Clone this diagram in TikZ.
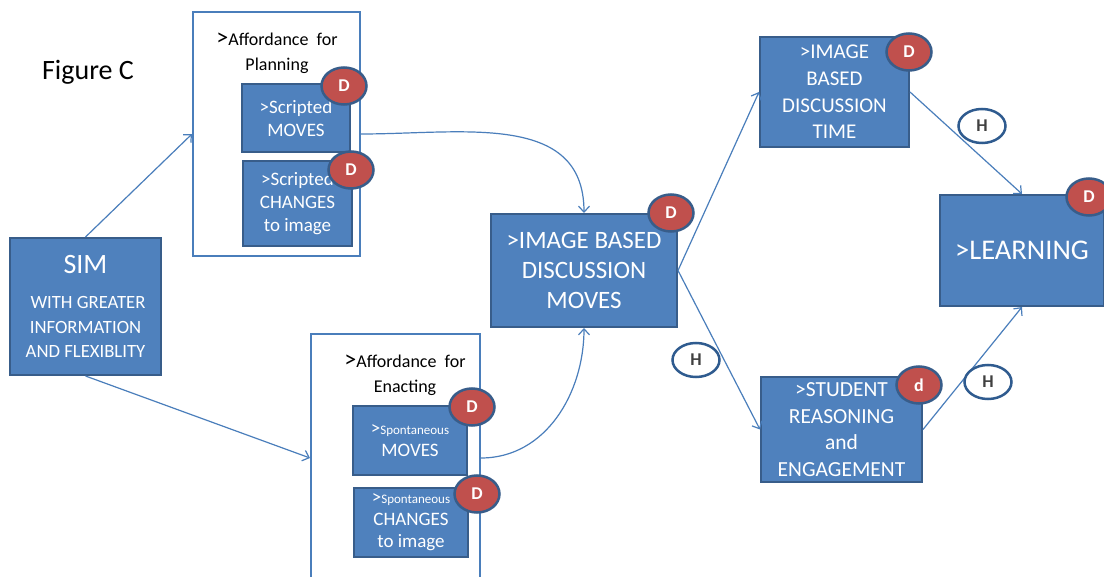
\documentclass[tikz,border=0pt]{standalone}
\usepackage{fontspec}
\setmainfont{Carlito}
\usetikzlibrary{arrows.meta,shapes.geometric}
\definecolor{boxfill}{HTML}{4F81BD}
\definecolor{boxline}{HTML}{385D8A}
\definecolor{dred}{HTML}{C0504D}
\definecolor{hline}{HTML}{2F5B8F}
\definecolor{connc}{HTML}{4A7EBB}
\newcommand{\fs}[2]{\fontsize{#1}{#2}\selectfont}
\tikzset{
  bluebox/.style={draw=boxline, line width=2pt, fill=boxfill, text=white, align=center, inner sep=0pt},
  framebox/.style={draw=connc, line width=2pt, fill=white, inner sep=0pt},
  dmark/.style={ellipse, draw=boxline, line width=2.5pt, fill=dred, text=white, font=\bfseries\fs{18}{18}, minimum width=45pt, minimum height=37pt, inner sep=0pt},
  hmark/.style={ellipse, draw=hline, line width=2.5pt, fill=white, text=black!75, font=\bfseries\fs{18}{18}, minimum width=47pt, minimum height=34pt, inner sep=0pt},
  conn/.style={draw=connc, line width=1.2pt, -{Straight Barb[length=6pt,width=11pt]}},
  lbl/.style={align=center, inner sep=0pt, text=black}
}
\begin{document}
\begin{tikzpicture}[x=1pt,y=-1pt]
\useasboundingbox[fill=white] (0,0) rectangle (1104,577);
\node[lbl, font=\fs{28}{30}] (fig) at (88,72) {Figure C};
% frames
\node[framebox, minimum width=167pt, minimum height=244pt] (plan) at (276.5,134) {};
\node[framebox, minimum width=169pt, minimum height=260pt] (enact) at (395.5,464) {};
\node[lbl, font=\fs{18}{25}] (planlbl) at (277,53) {{\fs{24}{25}>}Affordance\ \ for\\Planning};
\node[lbl, font=\fs{18}{25}] (enactlbl) at (405,375) {{\fs{24}{25}>}Affordance\ \ for\\Enacting};
% boxes
\node[bluebox, minimum width=108pt, minimum height=68pt, font=\fs{19}{23}] (sm) at (296,118) {>Scripted\\MOVES};
\node[bluebox, minimum width=109pt, minimum height=85pt, font=\fs{19}{23}] (sc) at (297.5,203.5) {>Scripted\\CHANGES\\to image};
\node[bluebox, minimum width=114pt, minimum height=69pt, font=\fs{19}{22}] (spm) at (410,440.5) {>{\fs{13}{22}Spontaneous}\\MOVES};
\node[bluebox, minimum width=114pt, minimum height=69pt, font=\fs{19}{22}] (spc) at (411,522.5) {>{\fs{13}{22}Spontaneous}\\CHANGES\\to image};
\node[bluebox, minimum width=151pt, minimum height=137pt, font=\fs{18.7}{24.5}] (sim) at (85.5,306.5) {{\fs{28}{30}SIM}\\[11pt]\hspace{5pt}WITH GREATER\\INFORMATION\\AND FLEXIBLITY};
\node[bluebox, minimum width=186pt, minimum height=113pt, font=\fs{25}{30}] (ibdm) at (584,270.5) {>IMAGE BASED\\DISCUSSION\\MOVES};
\node[bluebox, minimum width=149pt, minimum height=110pt, font=\fs{21}{26.7}] (ibdt) at (834.5,92) {>IMAGE\\BASED\\DISCUSSION\\TIME};
\node[bluebox, minimum width=161pt, minimum height=105pt, font=\fs{21.5}{26.7}] (sr) at (841.5,429.5) {>STUDENT\\REASONING\\and\\ENGAGEMENT};
\node[bluebox, minimum width=164pt, minimum height=111pt, font=\fs{28.5}{30}] (learn) at (1022,250.5) {>LEARNING};
% connectors
\draw[conn] (sim.north) -- (plan.west);
\draw[conn] (sim.south) -- (enact.west |- 0,458);
\draw[conn] (plan.east) to[out=0,in=90,looseness=1.1] (ibdm.north);
\draw[conn] (enact.east |- 0,458) to[out=0,in=-90,looseness=1] (ibdm.south);
\draw[conn] (ibdm.east) -- (ibdt.west);
\draw[conn] (ibdm.east) -- (sr.west);
\draw[conn] (ibdt.east) -- (learn.north);
\draw[conn] (sr.east) -- (learn.south);
% marks
\node[dmark] (d1) at (344,86) {D};
\node[dmark] (d2) at (351,170) {D};
\node[dmark] (d3) at (472,407) {D};
\node[dmark] (d4) at (477,494) {D};
\node[dmark] (d5) at (671,213) {D};
\node[dmark] (d6) at (909,52) {D};
\node[dmark] (d7) at (919,385) {d};
\node[dmark] (d8) at (1089,197) {D};
\node[hmark] (h1) at (982,126) {H};
\node[hmark] (h2) at (696,360) {H};
\node[hmark] (h3) at (988,382) {H};
\end{tikzpicture}
\end{document}
